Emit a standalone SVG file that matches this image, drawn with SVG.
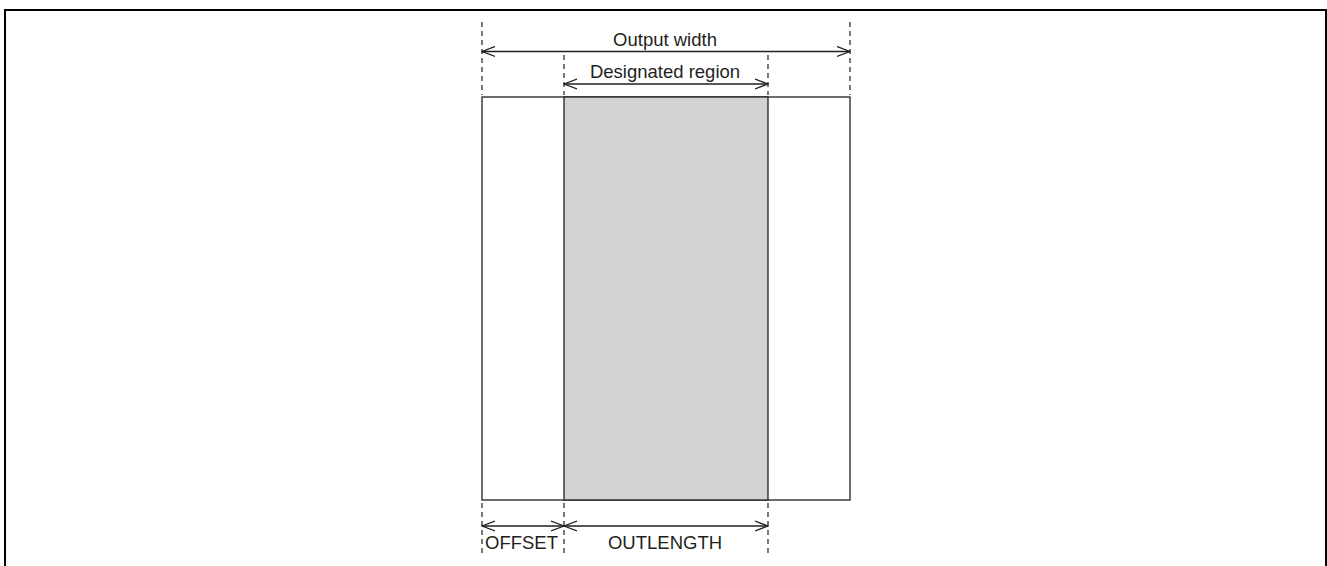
<svg xmlns="http://www.w3.org/2000/svg" width="1327" height="566" viewBox="0 0 1327 566">
<defs>
<marker id="ah" markerWidth="14" markerHeight="12" refX="13" refY="6" orient="auto-start-reverse" markerUnits="userSpaceOnUse">
<path d="M0,1 L13,6 L0,11" fill="none" stroke="#231f20" stroke-width="1.3"/>
</marker>
<style>
.dash{stroke:#231f20;stroke-width:1.2;stroke-dasharray:5,4;fill:none}
.dim{stroke:#231f20;stroke-width:1.3;fill:none;marker-start:url(#ah);marker-end:url(#ah)}
.t{font-family:"Liberation Sans",Arial,sans-serif;font-size:18.5px;fill:#231f20}
</style>
</defs>
<rect x="0" y="0" width="1327" height="566" fill="#fff"/>
<path d="M5,570 L5,10 L1326,10 L1326,570" fill="none" stroke="#000" stroke-width="2"/>
<g id="output">
<rect x="482" y="97" width="368" height="403" fill="#fff" stroke="#231f20" stroke-width="1.3"/>
</g>
<g id="region">
<rect x="564" y="97" width="204" height="403" fill="#d1d3d4" stroke="#231f20" stroke-width="1.3"/>
</g>
<g id="connectors">
<line class="dash" x1="482" y1="22" x2="482" y2="95"/>
<line class="dash" x1="850" y1="22" x2="850" y2="95"/>
<line class="dash" x1="564" y1="55" x2="564" y2="95"/>
<line class="dash" x1="768" y1="55" x2="768" y2="95"/>
<line class="dash" x1="482" y1="503" x2="482" y2="556"/>
<line class="dash" x1="564" y1="503" x2="564" y2="556"/>
<line class="dash" x1="768" y1="503" x2="768" y2="556"/>
<line class="dim" x1="482" y1="51.5" x2="850" y2="51.5"/>
<line class="dim" x1="564" y1="84" x2="768" y2="84"/>
<line class="dim" x1="482" y1="526" x2="564" y2="526"/>
<line class="dim" x1="564" y1="526" x2="768" y2="526"/>
</g>
<text class="t" x="665" y="46" text-anchor="middle">Output width</text>
<text class="t" x="665" y="78" text-anchor="middle">Designated region</text>
<text class="t" x="485" y="549">OFFSET</text>
<text class="t" x="665" y="549" text-anchor="middle">OUTLENGTH</text>
</svg>
